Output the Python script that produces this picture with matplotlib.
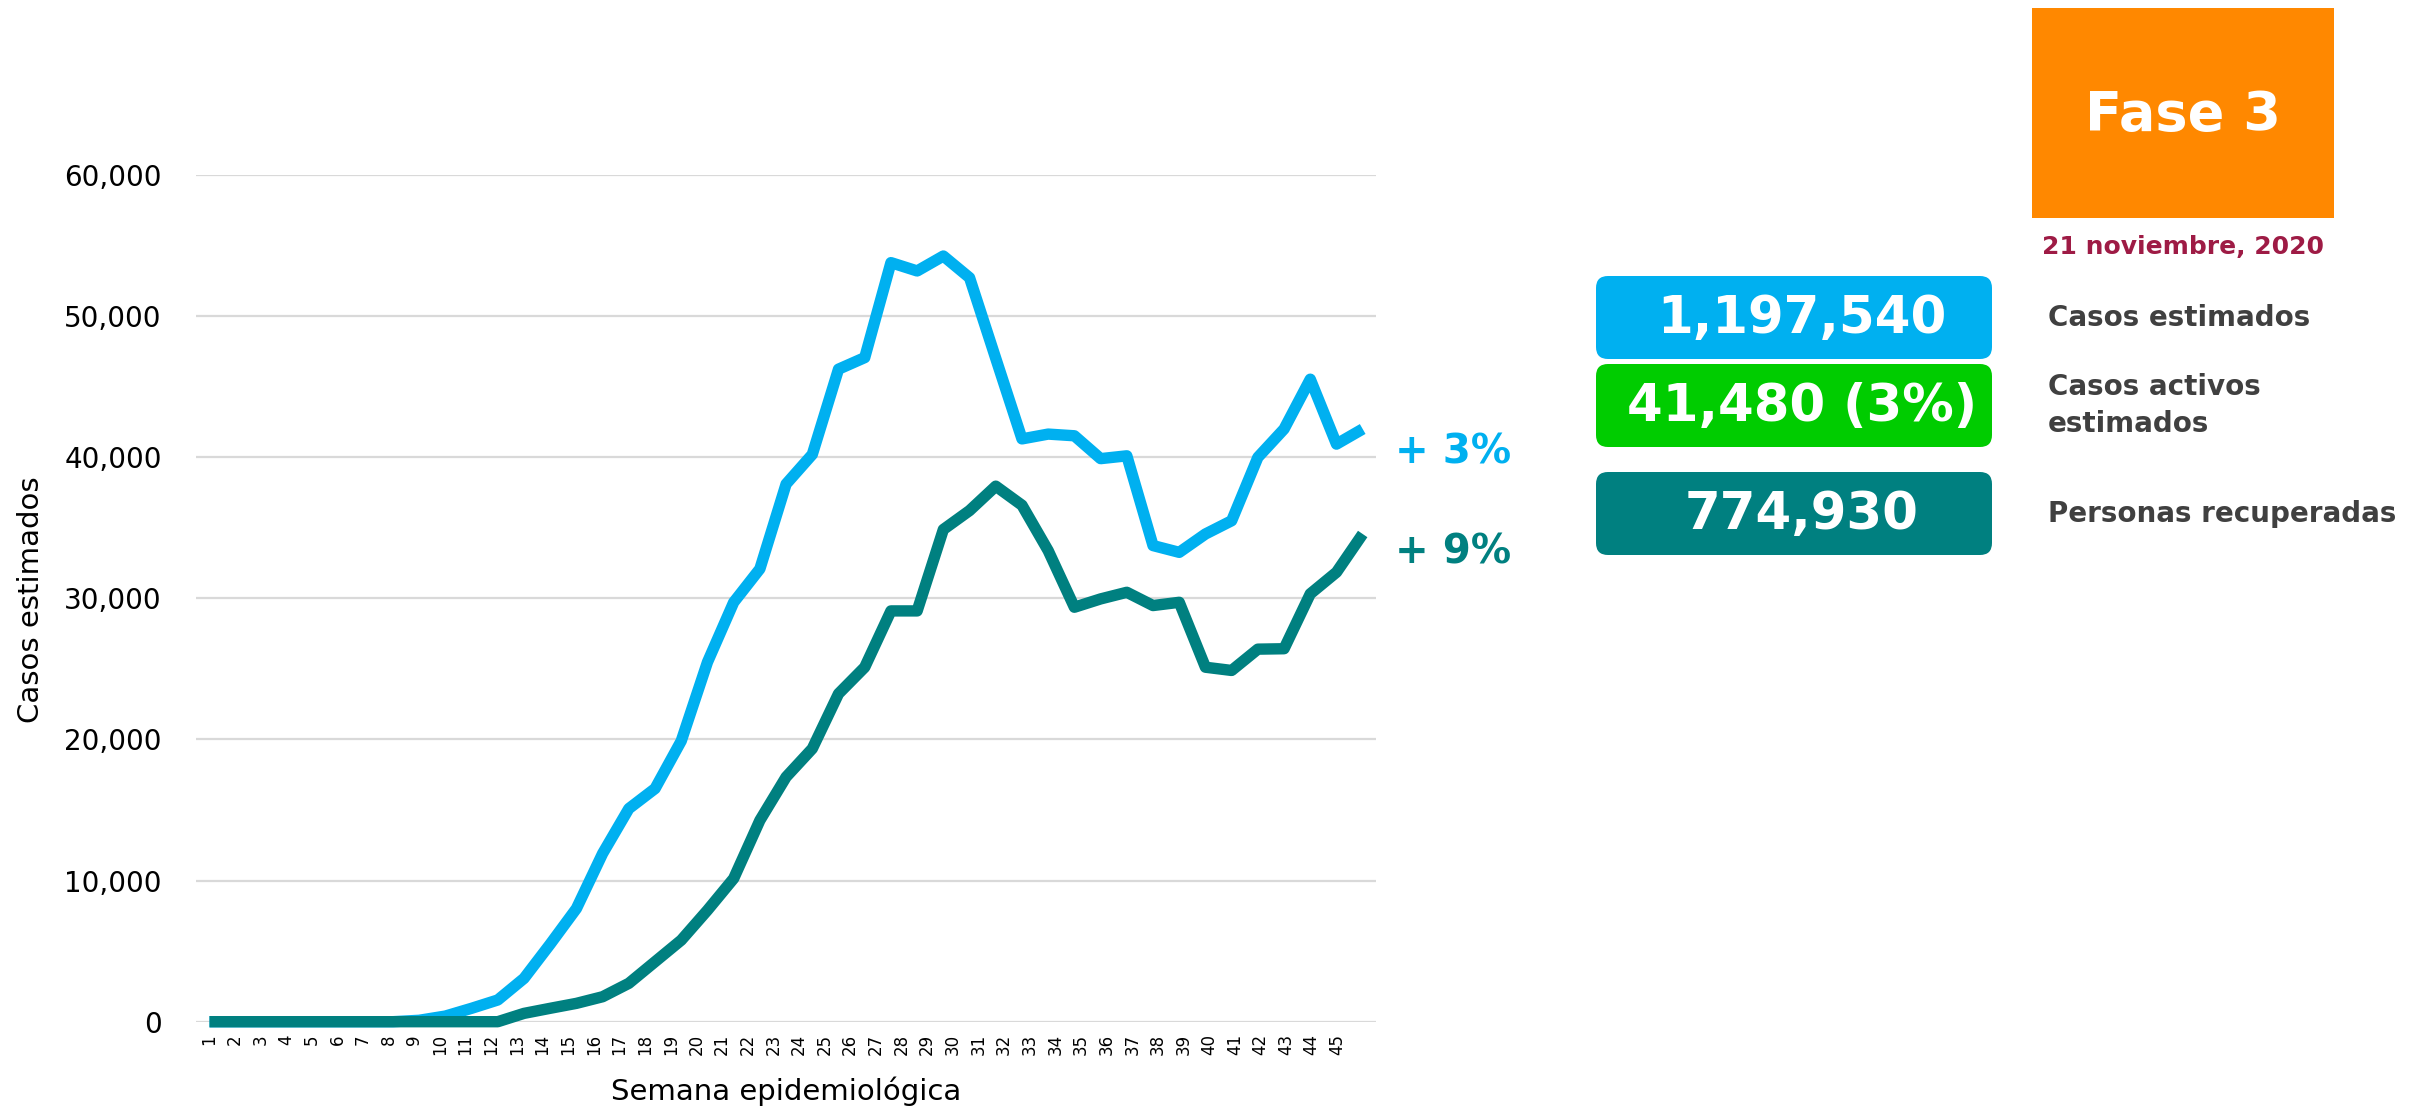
import matplotlib
matplotlib.use("Agg")
import matplotlib.pyplot as plt
from matplotlib.patches import FancyBboxPatch, Rectangle
from matplotlib.ticker import FuncFormatter

plt.rcParams['font.family'] = ['DejaVu Sans']

# tick labels of the category axis (last slot has no label)
weeks = [str(w) for w in range(1, 46)] + ['']

# weekly values, one per point of each line
estimated = [0, 0, 0, 0, 0, 0, 0, 0, 100,
             400, 950, 1540, 3070, 5500, 8020, 11920, 15100, 16520, 19900,
             25480, 29720, 32090, 38100, 40200, 46240, 47060, 53790, 53200, 54260,
             52720, 47000, 41300, 41640, 41520, 39900, 40100, 33740, 33260, 34560,
             35500, 39990, 42000, 45530, 40930, 42000]
recovered = [0, 0, 0, 0, 0, 0, 0, 0, 0,
             0, 0, 0, 590, 950, 1300, 1770, 2720, 4250, 5780,
             7900, 10150, 14270, 17340, 19350, 23240, 25120, 29110, 29110, 34880,
             36220, 37950, 36600, 33380, 29370, 29960, 30430, 29490, 29720, 25120,
             24890, 26400, 26430, 30320, 31850, 34560]
y_ticks = [0, 10000, 20000, 30000, 40000, 50000, 60000]

change_estimated = "+ 3%"
change_recovered = "+ 9%"
phase = "Fase 3"
date_text = "21 noviembre, 2020"
box_values = ["1,197,540", "41,480 (3%)", "774,930"]
box_labels = ["Casos estimados", "Casos activos\nestimados", "Personas recuperadas"]

BLUE = "#00B0F0"
TEAL = "#008080"
GREEN = "#00CC00"
ORANGE = "#FF8800"
DATE_COLOR = "#9E1B45"
LABEL_COLOR = "#404040"

W, H = 2427, 1109
fig = plt.figure(figsize=(W / 100, H / 100), dpi=100)
fig.patch.set_facecolor("white")

# main line chart
ax = fig.add_axes([196.4 / W, 1 - 1021.7 / H, (1375.8 - 196.4) / W, (1021.7 - 175) / H])
x = list(range(len(estimated)))
ax.plot(x, estimated, color=BLUE, lw=8.2, solid_joinstyle='round', solid_capstyle='butt',
        clip_on=False, zorder=3)
ax.plot(x, recovered, color=TEAL, lw=8.2, solid_joinstyle='round', solid_capstyle='butt',
        clip_on=False, zorder=4)
ax.set_xlim(-0.5, len(estimated) - 0.5)
ax.set_ylim(0, 60000)
ax.set_yticks(y_ticks)
ax.yaxis.set_major_formatter(FuncFormatter(lambda v, p: f"{int(v):,}"))
ax.set_xticks([])
ax.tick_params(axis='y', length=0, pad=25, labelsize=20)
ax.grid(axis='y', color="#D9D9D9", lw=1.6)
ax.set_axisbelow(True)
for s in ax.spines.values():
    s.set_visible(False)

# week labels sit on their own category axis
axw = ax.twiny()
axw.set_xlim(-0.5, len(weeks) - 0.5)
axw.xaxis.set_ticks_position('bottom')
axw.set_xticks(range(len(weeks)))
axw.set_xticklabels(weeks, rotation=90, fontsize=12)
axw.tick_params(axis='x', length=0, pad=9)
for s in axw.spines.values():
    s.set_visible(False)

# overlay in pixel coordinates for the labels and the summary panel
ov = fig.add_axes([0, 0, 1, 1])
ov.set_xlim(0, W)
ov.set_ylim(H, 0)
ov.axis('off')
ov.patch.set_visible(False)

ov.text(786, 1091, "Semana epidemiológica", fontsize=21, ha='center', va='center')
ov.text(31, 600, "Casos estimados", fontsize=21, ha='center', va='center', rotation=90)

ov.text(1395, 452, change_estimated, fontsize=29, fontweight='bold', color=BLUE,
        ha='left', va='center')
ov.text(1395, 552, change_recovered, fontsize=29, fontweight='bold', color=TEAL,
        ha='left', va='center')

# phase box
ov.add_patch(Rectangle((2032, 8), 302, 210, color=ORANGE, lw=0))
ov.text(2183, 115, phase, fontsize=39, fontweight='bold', color='white',
        ha='center', va='center')
ov.text(2183, 247, date_text, fontsize=18, fontweight='bold', color=DATE_COLOR,
        ha='center', va='center')

# summary boxes
box_colors = [BLUE, GREEN, TEAL]
box_tops = [276, 364, 472]
box_h = 83
for val, lab, col, top in zip(box_values, box_labels, box_colors, box_tops):
    ov.add_patch(FancyBboxPatch((1596 + 12, top + 12), 396 - 24, box_h - 24,
                                boxstyle="round,pad=12", fc=col, ec='none'))
    ov.text(1802, top + box_h / 2 + 2, val, fontsize=37, fontweight='bold', color='white',
            ha='center', va='center')
    ov.text(2048, top + box_h / 2, lab, fontsize=20, fontweight='bold', color=LABEL_COLOR,
            ha='left', va='center', linespacing=1.4)

fig.savefig("out.png", dpi=100, facecolor="white")
